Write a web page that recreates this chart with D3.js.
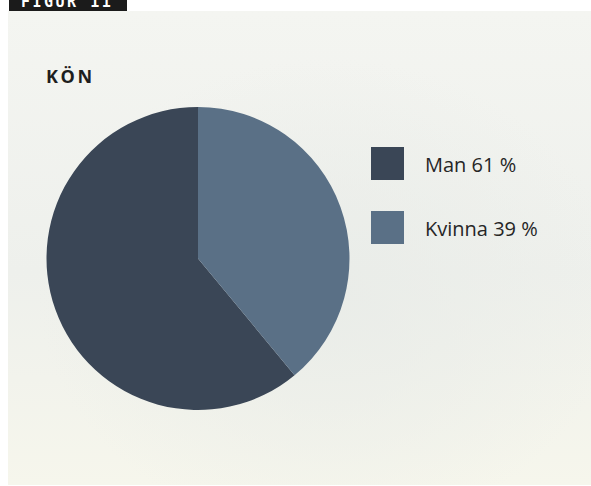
<!DOCTYPE html>
<html>
<head>
<meta charset="utf-8">
<script src="https://cdn.jsdelivr.net/npm/d3@7"></script>
<style>
  body { margin:0; background:#ffffff; }
  svg { display:block; }
  .title { font-family:"Open Sans", sans-serif; font-weight:700; font-size:18px; letter-spacing:2.6px; fill:#1e1e1e; }
  .legendLabel { font-family:"Open Sans", sans-serif; font-size:20px; fill:#262626; }
  .tabLabel { font-family:"DejaVu Sans Mono", monospace; font-weight:700; font-size:15px; fill:#ffffff; letter-spacing:2.5px; }
</style>
</head>
<body>
<svg id="svg-pie" width="591" height="486"></svg>
<script>
var svg = d3.select("#svg-pie");

// Data
var categories = ["Man", "Kvinna"];
var values = [61, 39];
var labels = ["Man 61 %", "Kvinna 39 %"];
var colors = ["#3a4656", "#5a7086"];

// Layout
var panel = { x:8, y:11, w:583, h:474 };
var pie_dim = { cx:198, cy:258.5, r:151.5 };
var legend_dim = { x:371, y:147, size:33, step:64, text_dx:54 };

// Background gradients (soft sky look)
var defs = svg.append("defs");
var bg = defs.append("linearGradient").attr("id", "bg").attr("x1", 0).attr("y1", 0).attr("x2", 0).attr("y2", 1);
bg.append("stop").attr("offset", "0%").attr("stop-color", "#f4f5f1");
bg.append("stop").attr("offset", "55%").attr("stop-color", "#eef0ec");
bg.append("stop").attr("offset", "100%").attr("stop-color", "#f6f6ec");
var glow = defs.append("radialGradient").attr("id", "glow").attr("cx", 0.55).attr("cy", 0.6).attr("r", 0.5);
glow.append("stop").attr("offset", "0%").attr("stop-color", "#e9ece8").attr("stop-opacity", 0.9);
glow.append("stop").attr("offset", "100%").attr("stop-color", "#e9ece8").attr("stop-opacity", 0);

svg.append("rect")
   .attr("x", panel.x).attr("y", panel.y)
   .attr("width", panel.w).attr("height", panel.h)
   .style("fill", "url(#bg)");
svg.append("rect")
   .attr("x", panel.x).attr("y", panel.y)
   .attr("width", panel.w).attr("height", panel.h)
   .style("fill", "url(#glow)");

// Figure tab (text cut off at top, as in the original)
svg.append("rect")
   .attr("x", 9).attr("y", 0)
   .attr("width", 118).attr("height", 11)
   .style("fill", "#1b1b1b");
svg.append("text")
   .attr("class", "tabLabel")
   .attr("x", 21).attr("y", 7)
   .text("FIGUR 11");

// Title
svg.append("text")
   .attr("class", "title")
   .attr("x", 46).attr("y", 83)
   .text("KÖN");

// Pie (Kvinna clockwise from 12 o'clock, Man fills the rest)
var pie = d3.pie()
            .sort(null)
            .startAngle(2 * Math.PI)
            .endAngle(0)
            .value(function(d) { return d; });
var arc = d3.arc().innerRadius(0).outerRadius(pie_dim.r);

var pie_g = svg.append("g")
               .attr("transform", "translate(" + pie_dim.cx + "," + pie_dim.cy + ")");
pie_g.selectAll("path")
     .data(pie(values))
     .enter()
     .append("path")
     .attr("d", arc)
     .style("fill", function(d, i) { return colors[i]; });

// Legend
var legend = svg.selectAll("legendItem")
                .data(categories)
                .enter()
                .append("g")
                .attr("transform", function(d, i) {
                  return "translate(" + legend_dim.x + "," + (legend_dim.y + legend_dim.step * i) + ")";
                });
legend.append("rect")
      .attr("width", legend_dim.size)
      .attr("height", legend_dim.size)
      .style("fill", function(d, i) { return colors[i]; });
legend.append("text")
      .attr("class", "legendLabel")
      .attr("x", legend_dim.text_dx)
      .attr("y", legend_dim.size / 2 + 8.5)
      .text(function(d, i) { return labels[i]; });
</script>
</body>
</html>
